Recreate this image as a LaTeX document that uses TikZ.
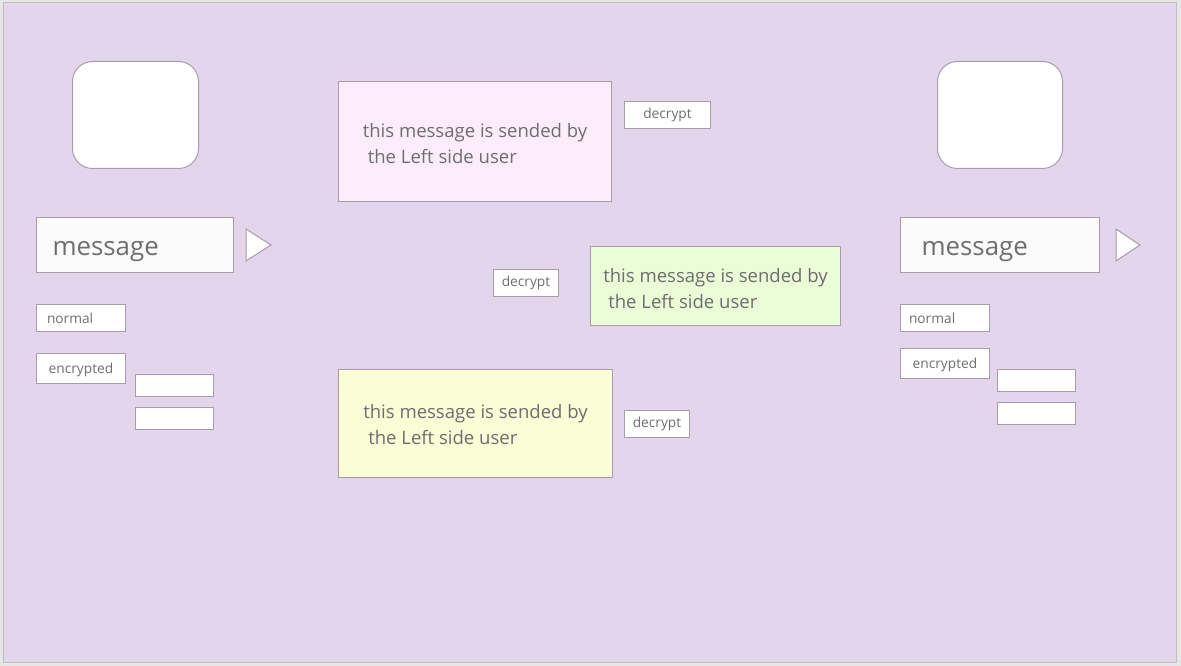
\documentclass[tikz,border=0pt]{standalone}
\usepackage{fontspec}
\setmainfont{Open Sans}
\newdimen\pxu \pxu=0.75pt
\definecolor{bg}{HTML}{E3D5EC}
\definecolor{outer}{HTML}{E6E6E6}
\definecolor{bd}{HTML}{A99CAA}
\definecolor{txt}{HTML}{6E6E6E}
\definecolor{pinkf}{HTML}{FDEDFC}
\definecolor{greenf}{HTML}{EAFDD7}
\definecolor{yellowf}{HTML}{FAFDD6}
\definecolor{msgf}{HTML}{FBFBFB}
\newcommand{\lowr}[2]{\raisebox{-#1\pxu}[0pt][0pt]{#2}}
\tikzset{
  px/.style={x=0.75pt,y=-0.75pt},
  box/.style={draw=bd, line width=1\pxu, fill=white, inner sep=0pt, text=txt, anchor=north west},
  avatar/.style={box, rounded corners=20\pxu, minimum width=126\pxu, minimum height=107\pxu},
  msgbox/.style={box, fill=msgf, minimum height=55\pxu, font=\fontsize{19.4}{22}\selectfont, align=left},
  lbl/.style={box, font=\fontsize{10.3}{12}\selectfont, minimum height=#1\pxu},
  blank/.style={box, minimum width=78\pxu, minimum height=22\pxu},
  note/.style={box, font=\fontsize{13.9}{19.5}\selectfont, align=left},
  tri/.style={draw=bd, line width=1\pxu, fill=white},
}
\begin{document}
\begin{tikzpicture}[px]
\useasboundingbox (0,0) rectangle (1181,666);
\fill[outer] (0,0) rectangle (1181,666);
\draw[fill=bg, draw=black!25, line width=1\pxu] (3.5,2.5) rectangle (1176.5,662.5);

% left side
\node[avatar] (lav) at (72,61) {};
\node[msgbox, text width=165\pxu, inner xsep=16\pxu] (lmsg) at (36,217) {\lowr{10.5}{message}};
\draw[tri] (246,229) -- (271,245) -- (246,261) -- cycle;
\node[lbl=27, text width=78\pxu, inner xsep=5.5\pxu, align=left, minimum width=89\pxu] (lnorm) at (36,304) {\hspace{5\pxu}normal};
\node[lbl=30, minimum width=89\pxu] (lenc) at (36,353) {\lowr{5}{encrypted}};
\node[blank] (lb1) at (135,374) {};
\node[blank] (lb2) at (135,407) {};

% right side
\node[avatar, minimum width=125\pxu] (rav) at (937,61) {};
\node[msgbox, text width=167\pxu, inner xsep=16\pxu, minimum width=199\pxu] (rmsg) at (900,217) {\hspace{5\pxu}\lowr{10.5}{message}};
\draw[tri] (1116,229) -- (1140,245) -- (1116,261) -- cycle;
\node[lbl=27, text width=78\pxu, inner xsep=5.5\pxu, align=left, minimum width=89\pxu] (rnorm) at (900,304) {\hspace{3\pxu}normal};
\node[lbl=30, minimum width=89\pxu] (renc) at (900,348) {\lowr{5}{encrypted}};
\node[blank] (rb1) at (997,369) {};
\node[blank] (rb2) at (997,402) {};

% middle
\node[note, fill=pinkf, minimum width=273\pxu, minimum height=120\pxu] (pink) at (338,81) {\lowr{9.5}{this message is sended by}\\\hspace{5\pxu}\lowr{9.5}{the Left side user}};
\node[lbl=27, minimum width=86\pxu] (dec1) at (624,101) {decrypt};
\node[note, fill=greenf, minimum width=250\pxu, minimum height=79\pxu] (green) at (590,246) {\lowr{10}{this message is sended by}\\\hspace{5\pxu}\lowr{10}{the Left side user}};
\node[lbl=27, minimum width=65\pxu] (dec2) at (493,269) {decrypt};
\node[note, fill=yellowf, minimum width=274\pxu, minimum height=108\pxu] (yellow) at (338,369) {\lowr{8}{this message is sended by}\\\hspace{5\pxu}\lowr{8}{the Left side user}};
\node[lbl=27, minimum width=65\pxu] (dec3) at (624,410) {decrypt};
\end{tikzpicture}
\end{document}
